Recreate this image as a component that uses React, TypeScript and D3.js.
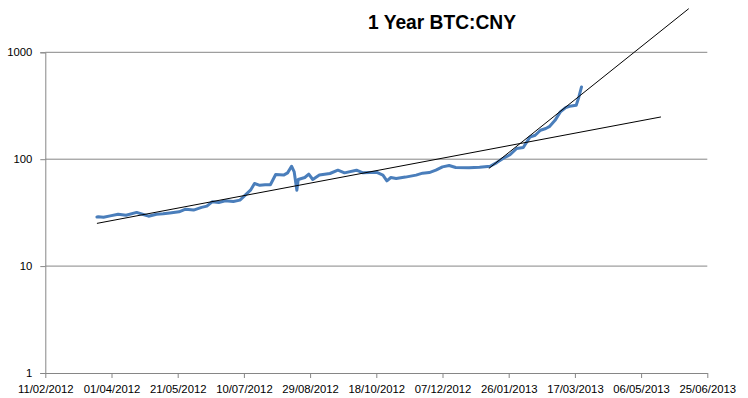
import React, { useEffect, useRef } from 'react';
import * as d3 from 'd3';

// BTC:CNY closing prices (dd/mm/yyyy)
const priceDates = [
  '21/03/2012', '22/03/2012', '26/03/2012', '31/03/2012', '06/04/2012', '12/04/2012', '20/04/2012',
  '25/04/2012', '29/04/2012', '05/05/2012', '10/05/2012', '15/05/2012', '22/05/2012', '27/05/2012',
  '02/06/2012', '08/06/2012', '12/06/2012', '16/06/2012', '21/06/2012', '26/06/2012', '02/07/2012',
  '07/07/2012', '11/07/2012', '15/07/2012', '18/07/2012', '22/07/2012', '26/07/2012', '30/07/2012',
  '03/08/2012', '09/08/2012', '12/08/2012', '15/08/2012', '17/08/2012', '19/08/2012', '20/08/2012',
  '25/08/2012', '28/08/2012', '31/08/2012', '05/09/2012', '13/09/2012', '19/09/2012', '24/09/2012',
  '03/10/2012', '08/10/2012', '18/10/2012', '23/10/2012', '26/10/2012', '29/10/2012', '02/11/2012',
  '09/11/2012', '17/11/2012', '22/11/2012', '27/11/2012', '02/12/2012', '07/12/2012', '12/12/2012',
  '17/12/2012', '27/12/2012', '04/01/2013', '12/01/2013', '17/01/2013', '22/01/2013', '27/01/2013',
  '01/02/2013', '06/02/2013', '11/02/2013', '15/02/2013', '19/02/2013', '23/02/2013', '26/02/2013',
  '02/03/2013', '06/03/2013', '10/03/2013', '13/03/2013', '18/03/2013', '20/03/2013', '22/03/2013',
];
const priceValues = [
  28.8, 28.9, 28.6, 29.5, 30.6, 29.9, 31.8,
  30.4, 29.3, 30.6, 30.9, 31.4, 32.2, 34.1,
  33.4, 35.4, 36.4, 39.9, 39.4, 40.8, 40.2,
  41.4, 46.1, 51.3, 59.3, 57.0, 57.8, 57.6,
  71.9, 71.0, 74.5, 86.0, 76.0, 51.3, 64.6,
  67.4, 72.4, 64.6, 71.1, 73.5, 78.9, 74.5,
  78.9, 74.5, 75.5, 71.0, 62.7, 67.4, 66.0,
  68.0, 71.0, 74.0, 75.0, 79.0, 84.8, 87.3,
  83.6, 83.0, 84.0, 86.0, 93.0, 102, 110,
  126, 128.5, 161, 167.5, 186.7, 193.6, 203,
  231, 277, 304, 313, 320, 382, 474,
];

// two trend lines drawn over the series: [start, end]
const trendAllDates = ['21/03/2012', '21/05/2013'];
const trendAllValues = [25.1, 248.5];
const trendRecentDates = ['11/01/2013', '11/06/2013'];
const trendRecentValues = [81.9, 2560];

const xTickLabels = [
  '11/02/2012', '01/04/2012', '21/05/2012', '10/07/2012', '29/08/2012', '18/10/2012',
  '07/12/2012', '26/01/2013', '17/03/2013', '06/05/2013', '25/06/2013',
];
const yTickValues = [1, 10, 100, 1000];

const title = '1 Year BTC:CNY';

const parseDate = d3.timeParse('%d/%m/%Y');

const App = () => {
  const ref = useRef<SVGSVGElement>(null);

  useEffect(() => {
    const width = 748;
    const height = 398;
    const margin = { top: 52.3, right: 40.7, bottom: 25, left: 45.3 };
    const font = '"Liberation Sans", Arial, sans-serif';
    const gridColor = '#868686';

    const svg = d3.select(ref.current);
    svg.selectAll('*').remove();
    svg.attr('width', width).attr('height', height);

    const xTicks = xTickLabels.map(s => parseDate(s) as Date);

    const x = d3
      .scaleTime()
      .domain([xTicks[0], xTicks[xTicks.length - 1]])
      .range([margin.left, width - margin.right]);

    const y = d3
      .scaleLog()
      .domain([1, 1000])
      .range([height - margin.bottom, margin.top]);

    // gridlines
    svg
      .append('g')
      .selectAll('line')
      .data(yTickValues.slice(1))
      .enter()
      .append('line')
      .attr('x1', x.range()[0])
      .attr('x2', x.range()[1])
      .attr('y1', d => y(d))
      .attr('y2', d => y(d))
      .attr('stroke', gridColor)
      .attr('stroke-width', 1);

    // Y axis
    const yAxis = svg
      .append('g')
      .attr('transform', `translate(${margin.left},0)`)
      .call(
        d3
          .axisLeft(y)
          .tickValues(yTickValues)
          .tickFormat(d => d3.format('d')(d as number))
          .tickSize(5)
          .tickPadding(8)
      );
    yAxis.select('.domain').attr('stroke', gridColor);
    yAxis.selectAll('.tick line').attr('stroke', gridColor);
    yAxis
      .selectAll('.tick text')
      .attr('fill', '#000')
      .style('font-family', font)
      .style('font-size', '11.3px');

    // X axis
    const xAxis = svg
      .append('g')
      .attr('transform', `translate(0,${y(1)})`)
      .call(
        d3
          .axisBottom(x)
          .tickValues(xTicks)
          .tickFormat(d => d3.timeFormat('%d/%m/%Y')(d as Date))
          .tickSize(5)
          .tickSizeOuter(0)
          .tickPadding(7)
      );
    xAxis.select('.domain').attr('stroke', gridColor);
    xAxis.selectAll('.tick line').attr('stroke', gridColor);
    xAxis
      .selectAll('.tick text')
      .attr('fill', '#000')
      .style('font-family', font)
      .style('font-size', '11.3px');

    // price series
    const series = priceDates.map((d, i) => ({ date: parseDate(d) as Date, value: priceValues[i] }));
    const line = d3
      .line<{ date: Date; value: number }>()
      .x(d => x(d.date))
      .y(d => y(d.value));

    svg
      .append('path')
      .datum(series)
      .attr('d', line)
      .attr('fill', 'none')
      .attr('stroke', '#4a7ebb')
      .attr('stroke-width', 3)
      .attr('stroke-linejoin', 'round')
      .attr('stroke-linecap', 'round');

    // trend lines
    const trends = [
      trendAllDates.map((d, i) => ({ date: parseDate(d) as Date, value: trendAllValues[i] })),
      trendRecentDates.map((d, i) => ({ date: parseDate(d) as Date, value: trendRecentValues[i] })),
    ];
    svg
      .selectAll('.trend')
      .data(trends)
      .enter()
      .append('path')
      .attr('class', 'trend')
      .attr('d', d => line(d))
      .attr('fill', 'none')
      .attr('stroke', '#000')
      .attr('stroke-width', 1);

    // title
    svg
      .append('text')
      .attr('x', 442)
      .attr('y', 29.3)
      .attr('text-anchor', 'middle')
      .attr('textLength', 148)
      .attr('lengthAdjust', 'spacingAndGlyphs')
      .style('font-family', font)
      .style('font-weight', 'bold')
      .style('font-size', '21px')
      .text(title);
  }, []);

  return <svg ref={ref} style={{ position: 'absolute', left: 0, top: 0 }}></svg>;
};

export default App;
